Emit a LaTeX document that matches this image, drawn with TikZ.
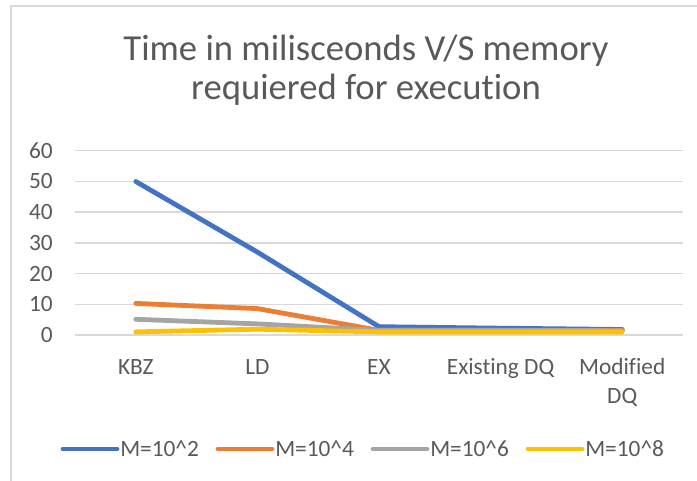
\documentclass[tikz,border=0pt]{standalone}
\usepackage{fontspec}
\setmainfont{Carlito}[Ligatures=CommonOff]
\usepackage{xcolor}
\definecolor{serBlue}{HTML}{4472C4}
\definecolor{serOrange}{HTML}{ED7D31}
\definecolor{serGray}{HTML}{A5A5A5}
\definecolor{serYellow}{HTML}{FFC000}
\definecolor{txtGray}{HTML}{595959}
\definecolor{gridGray}{HTML}{D9D9D9}
\tikzset{
	gridline/.style={draw=gridGray,line width=1.1pt},
	series/.style={draw=#1,line width=3.6pt,line cap=round,line join=round},
	ticklabel/.style={text=txtGray,inner sep=0pt,font=\fontsize{17.5}{21.75}\selectfont},
	charttitle/.style={text=txtGray,inner sep=0pt,align=center,font=\fontsize{27.5}{29.25}\selectfont}
}

\begin{document}
\begin{tikzpicture}[x=0.75pt,y=-0.75pt]
        \useasboundingbox (0,0) rectangle (697,481);
        % chart frame
        \coordinate (frame_tr) at (697,6);
        \coordinate (frame_tl) at (11,6);
        \coordinate (frame_bl) at (11,481);
        \draw[gridline] (frame_tr) -- (frame_tl) -- (frame_bl);
        \node[charttitle,anchor=base] (title) at (366,100) {Time in milisceonds V/S memory\\requiered for execution};
        % gridlines and value axis
        \draw[gridline] (75,150.7) -- (683,150.7);
        \draw[gridline] (75,181.4) -- (683,181.4);
        \draw[gridline] (75,212.1) -- (683,212.1);
        \draw[gridline] (75,242.8) -- (683,242.8);
        \draw[gridline] (75,273.6) -- (683,273.6);
        \draw[gridline] (75,304.3) -- (683,304.3);
        \draw[gridline] (75,335) -- (683,335);
        \node[ticklabel,anchor=east] (y_60) at (53,150.7) {60};
        \node[ticklabel,anchor=east] (y_50) at (53,181.4) {50};
        \node[ticklabel,anchor=east] (y_40) at (53,212.1) {40};
        \node[ticklabel,anchor=east] (y_30) at (53,242.8) {30};
        \node[ticklabel,anchor=east] (y_20) at (53,273.6) {20};
        \node[ticklabel,anchor=east] (y_10) at (53,304.3) {10};
        \node[ticklabel,anchor=east] (y_0) at (53,335) {0};
        % categories
        \node[ticklabel,anchor=base] (cat_kbz) at (135.8,374) {KBZ};
        \node[ticklabel,anchor=base] (cat_ld) at (257.4,374) {LD};
        \node[ticklabel,anchor=base] (cat_ex) at (379,374) {EX};
        \node[ticklabel,anchor=base] (cat_edq) at (500.6,374) {Existing DQ};
        \node[ticklabel,anchor=base,align=center] (cat_mdq) at (622.2,403) {Modified\\DQ};
        % data points
        \coordinate (kbz_M2) at (135.8,181.5);
        \coordinate (ld_M2) at (257.4,252.1);
        \coordinate (ex_M2) at (379,326.7);
        \coordinate (edq_M2) at (500.6,328.2);
        \coordinate (mdq_M2) at (622.2,329.5);
        \coordinate (kbz_M4) at (135.8,303.4);
        \coordinate (ld_M4) at (257.4,308.6);
        \coordinate (ex_M4) at (379,330.4);
        \coordinate (edq_M4) at (500.6,330.4);
        \coordinate (mdq_M4) at (622.2,330.4);
        \coordinate (kbz_M6) at (135.8,319.3);
        \coordinate (ld_M6) at (257.4,323.9);
        \coordinate (ex_M6) at (379,330.4);
        \coordinate (edq_M6) at (500.6,330.4);
        \coordinate (mdq_M6) at (622.2,330.7);
        \coordinate (kbz_M8) at (135.8,331.9);
        \coordinate (ld_M8) at (257.4,329.2);
        \coordinate (ex_M8) at (379,331.9);
        \coordinate (edq_M8) at (500.6,331.9);
        \coordinate (mdq_M8) at (622.2,331.9);
        \draw[series=serBlue] (kbz_M2) -- (ld_M2) -- (ex_M2) -- (edq_M2) -- (mdq_M2);
        \draw[series=serOrange] (kbz_M4) -- (ld_M4) -- (ex_M4) -- (edq_M4) -- (mdq_M4);
        \draw[series=serGray] (kbz_M6) -- (ld_M6) -- (ex_M6) -- (edq_M6) -- (mdq_M6);
        \draw[series=serYellow] (kbz_M8) -- (ld_M8) -- (ex_M8) -- (edq_M8) -- (mdq_M8);
        % legend
        \coordinate (leg_M2_a) at (63,449);
        \coordinate (leg_M2_b) at (117,449);
        \coordinate (leg_M4_a) at (218,449);
        \coordinate (leg_M4_b) at (272,449);
        \coordinate (leg_M6_a) at (373,449);
        \coordinate (leg_M6_b) at (427,449);
        \coordinate (leg_M8_a) at (528,449);
        \coordinate (leg_M8_b) at (582,449);
        \draw[series=serBlue] (leg_M2_a) -- (leg_M2_b);
        \draw[series=serOrange] (leg_M4_a) -- (leg_M4_b);
        \draw[series=serGray] (leg_M6_a) -- (leg_M6_b);
        \draw[series=serYellow] (leg_M8_a) -- (leg_M8_b);
        \node[ticklabel,anchor=west] (leg_M2) at (120,449) {M=10\textasciicircum 2};
        \node[ticklabel,anchor=west] (leg_M4) at (275,449) {M=10\textasciicircum 4};
        \node[ticklabel,anchor=west] (leg_M6) at (430,449) {M=10\textasciicircum 6};
        \node[ticklabel,anchor=west] (leg_M8) at (585,449) {M=10\textasciicircum 8};
    \end{tikzpicture}
\end{document}
